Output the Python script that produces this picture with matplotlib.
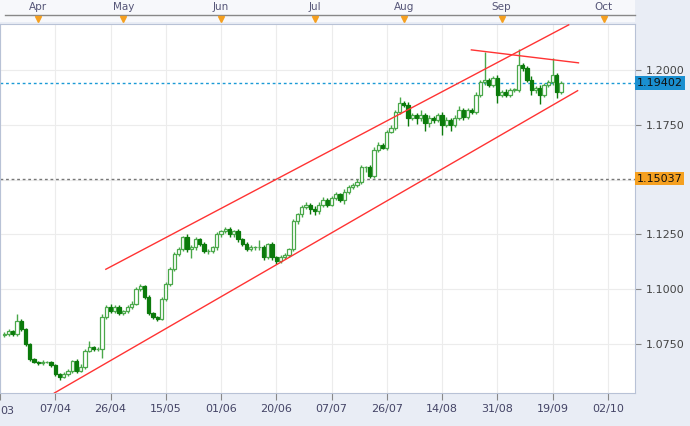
import matplotlib
matplotlib.use("Agg")
import matplotlib.pyplot as plt
import matplotlib.transforms as mtransforms
from matplotlib.patches import Rectangle

closes = [1.0795,1.0809,1.0795,1.0855,1.0818,1.0750,1.0682,1.0668,1.0664,1.0668,1.0668,1.0655,
          1.0614,1.0600,1.0614,1.0627,1.0673,1.0627,1.0645,1.0718,1.0736,1.0727,1.0727,1.0873,
          1.0918,1.0900,1.0918,1.0890,1.0900,1.0918,1.0932,1.1000,1.1014,1.0964,1.0890,1.0873,
          1.0864,1.0955,1.1023,1.1091,1.1159,1.1182,1.1236,1.1182,1.1191,1.1227,1.1205,1.1173,
          1.1173,1.1191,1.1250,1.1264,1.1273,1.1250,1.1264,1.1227,1.1205,1.1182,1.1191,1.1191,
          1.1191,1.1145,1.1205,1.1145,1.1127,1.1145,1.1155,1.1182,1.1309,1.1341,1.1373,1.1386,
          1.1364,1.1355,1.1386,1.1409,1.1386,1.1418,1.1432,1.1409,1.1445,1.1464,1.1477,1.1491,
          1.1555,1.1555,1.1518,1.1636,1.1659,1.1645,1.1718,1.1736,1.1809,1.1850,1.1841,1.1782,
          1.1795,1.1782,1.1795,1.1759,1.1782,1.1773,1.1795,1.1750,1.1773,1.1750,1.1782,1.1818,
          1.1786,1.1818,1.1809,1.1886,1.1945,1.1955,1.1932,1.1964,1.1886,1.1900,1.1886,1.1909,
          1.1909,1.2023,1.2009,1.1955,1.1909,1.1918,1.1886,1.1932,1.1945,1.1977,1.1900,1.1941]
first_open = 1.0790
upper_wick = [0.0008,0.0010,0.0006,0.0030,0.0008,0.0005,0.0004,0.0006,0.0005,0.0008,0.0004,0.0005,
              0.0004,0.0006,0.0008,0.0010,0.0006,0.0008,0.0012,0.0010,0.0028,0.0006,0.0010,0.0012,
              0.0010,0.0015,0.0008,0.0010,0.0006,0.0008,0.0015,0.0012,0.0010,0.0006,0.0010,0.0008,
              0.0006,0.0010,0.0012,0.0010,0.0012,0.0010,0.0008,0.0015,0.0012,0.0010,0.0008,0.0010,
              0.0012,0.0008,0.0010,0.0008,0.0010,0.0012,0.0006,0.0010,0.0008,0.0010,0.0012,0.0008,
              0.0035,0.0010,0.0008,0.0010,0.0006,0.0012,0.0010,0.0008,0.0010,0.0008,0.0012,0.0010,
              0.0008,0.0015,0.0012,0.0010,0.0008,0.0006,0.0010,0.0008,0.0012,0.0010,0.0008,0.0012,
              0.0010,0.0008,0.0010,0.0012,0.0010,0.0008,0.0010,0.0012,0.0010,0.0025,0.0010,0.0012,
              0.0010,0.0008,0.0020,0.0010,0.0012,0.0008,0.0010,0.0012,0.0010,0.0008,0.0010,0.0015,
              0.0010,0.0008,0.0010,0.0015,0.0010,0.0125,0.0010,0.0008,0.0012,0.0010,0.0012,0.0010,
              0.0008,0.0070,0.0010,0.0008,0.0015,0.0010,0.0012,0.0008,0.0010,0.0075,0.0010,0.0008]
lower_wick = [0.0008,0.0006,0.0010,0.0006,0.0008,0.0010,0.0008,0.0006,0.0010,0.0008,0.0006,0.0010,
              0.0008,0.0012,0.0006,0.0008,0.0010,0.0008,0.0006,0.0010,0.0006,0.0008,0.0010,0.0040,
              0.0010,0.0008,0.0010,0.0006,0.0008,0.0010,0.0008,0.0006,0.0010,0.0008,0.0006,0.0010,
              0.0008,0.0006,0.0008,0.0010,0.0008,0.0006,0.0010,0.0012,0.0040,0.0010,0.0008,0.0010,
              0.0012,0.0008,0.0010,0.0012,0.0008,0.0010,0.0012,0.0010,0.0008,0.0010,0.0008,0.0012,
              0.0010,0.0010,0.0008,0.0010,0.0012,0.0008,0.0006,0.0008,0.0010,0.0012,0.0010,0.0008,
              0.0020,0.0015,0.0010,0.0012,0.0010,0.0008,0.0010,0.0012,0.0020,0.0010,0.0008,0.0010,
              0.0012,0.0020,0.0010,0.0012,0.0010,0.0008,0.0010,0.0008,0.0010,0.0012,0.0010,0.0040,
              0.0012,0.0030,0.0015,0.0040,0.0020,0.0015,0.0012,0.0045,0.0010,0.0030,0.0012,0.0010,
              0.0015,0.0010,0.0012,0.0008,0.0010,0.0012,0.0010,0.0008,0.0035,0.0010,0.0012,0.0010,
              0.0008,0.0010,0.0012,0.0010,0.0025,0.0015,0.0040,0.0010,0.0010,0.0012,0.0030,0.0010]
start_index = -12

date_pos = [-13, 0, 13, 26, 39, 52, 65, 78, 91, 104, 117, 130]
date_labels = ["", "07/04", "26/04", "15/05", "01/06", "20/06", "07/07",
               "26/07", "14/08", "31/08", "19/09", "02/10"]
cut_label = "03"
month_pos = [-4, 16, 39, 61, 82, 105, 129]
month_labels = ["Apr", "May", "Jun", "Jul", "Aug", "Sep", "Oct"]
y_ticks = [1.075, 1.100, 1.125, 1.150, 1.175, 1.200]
upper_line = ([11.9, 120.8], [1.1091, 1.2205])
lower_line = ([-0.2, 122.9], [1.0527, 1.1905])
resist_line = ([97.9, 123.1], [1.2091, 1.2032])
last_price = 1.19402
ref_price = 1.15037

fig = plt.figure(figsize=(6.9, 4.26), dpi=100)
fig.patch.set_facecolor("#e9edf5")
# top strip background
fig.add_artist(Rectangle((0, 1 - 22/426), 635/690, 22/426, transform=fig.transFigure,
                         facecolor="#f7f8fb", edgecolor="none", zorder=0))
ax = fig.add_axes([0, 33/426, 635/690, (393-24)/426])
ax.set_facecolor("white")
ax.set_xlim(-11.9, 136.4)
ax.set_ylim(1.0527, 1.2209)

for v in y_ticks:
    ax.axhline(v, color="#ececec", lw=0.8, zorder=0)
for p in date_pos:
    ax.axvline(p, color="#ececec", lw=0.8, zorder=0)

prev = first_open
for k, c in enumerate(closes):
    i = start_index + k
    o = prev
    hi = max(o, c) + upper_wick[k]
    lo = min(o, c) - lower_wick[k]
    bull = c >= o
    col = "#4aa84a" if bull else "#0b7a0b"
    ax.vlines(i, lo, hi, color=col, lw=1.0, zorder=2)
    ax.add_patch(Rectangle((i - 0.38, min(o, c)), 0.76, max(abs(c - o), 0.0002),
                           facecolor="white" if bull else "#0b7a0b",
                           edgecolor=col, lw=0.9, zorder=3))
    prev = c

for xs, ys in (upper_line, lower_line, resist_line):
    ax.plot(xs, ys, color="#ff3333", lw=1.0, zorder=4)

ax.axhline(last_price, color="#1a9ad6", lw=1.0, ls=(0, (2, 2)), zorder=1)
ax.axhline(ref_price, color="#777777", lw=1.0, ls=(0, (2, 2)), zorder=1)

ax.yaxis.tick_right()
ax.set_yticks([v for v in y_ticks if v != 1.150])
ax.set_yticklabels([f"{v:.4f}" for v in y_ticks if v != 1.150], fontsize=8, color="#444444")
ax.tick_params(axis="y", length=4, color="#888888", pad=4)
ax.set_xticks(date_pos)
ax.set_xticklabels(date_labels, fontsize=8, color="#444466")
ax.tick_params(axis="x", length=5, color="#888888", pad=3)
ax.text(0.5 / 690 * 690 / 635 * 0 + 0.0, -0.035, cut_label, transform=ax.transAxes,
        fontsize=8, color="#444466", ha="left", va="top")
for s in ax.spines.values():
    s.set_color("#b8c2d6")

bbox_kw = dict(boxstyle="square,pad=0.15", lw=0)
btr = mtransforms.blended_transform_factory(ax.transAxes, ax.transData)
ax.text(1.003, last_price, "1.19402", transform=btr, fontsize=8, color="#111111",
        va="center", ha="left", bbox=dict(facecolor="#1a8fd0", **bbox_kw))
ax.text(1.003, ref_price, "1.15037", transform=btr, fontsize=8, color="#111111",
        va="center", ha="left", bbox=dict(facecolor="#f5a020", **bbox_kw))

# top month strip
tr = mtransforms.blended_transform_factory(ax.transData, fig.transFigure)
ax.plot([-11.9, 136.4], [1 - 15/426, 1 - 15/426], transform=tr, color="#888888", lw=1, clip_on=False)
for p, lab in zip(month_pos, month_labels):
    ax.text(p, 1 - 7/426, lab, transform=tr, fontsize=7.5, color="#555577", ha="center", va="center")
    ax.plot([p], [1 - 19/426], transform=tr, marker="v", color="#f5a020", ms=5, clip_on=False)

fig.savefig("out.png", dpi=100, facecolor=fig.get_facecolor())
